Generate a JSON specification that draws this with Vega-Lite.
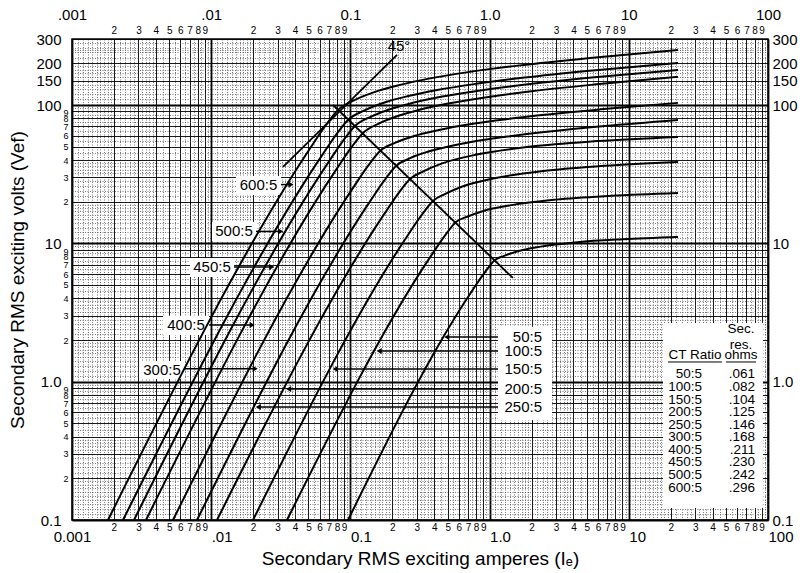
{
 "$schema": "https://vega.github.io/schema/vega-lite/v6.json",
 "width": 696, "height": 481,
 "autosize": "none",
 "padding": {"left": 72, "top": 39, "right": 37, "bottom": 53},
 "background": "white",
 "config": {
  "view": {"stroke": "black", "strokeWidth": 1.5},
  "font": "Liberation Sans",
  "axis": {"labelFont": "Liberation Sans", "titleFont": "Liberation Sans", "labelColor": "black", "titleColor": "black"}
 },
 "datasets": {
  "dummy": [{"I": 1, "V": 1}],
  "curves": [
   {"ratio": "600:5", "i": 0, "I": 0.001814, "V": 0.1}, {"ratio": "600:5", "i": 1, "I": 0.05386, "V": 52.3}, {"ratio": "600:5", "i": 2, "I": 0.06677, "V": 71.8}, {"ratio": "600:5", "i": 3, "I": 0.08146, "V": 92.2}, {"ratio": "600:5", "i": 4, "I": 0.1079, "V": 108.9}, {"ratio": "600:5", "i": 5, "I": 0.1579, "V": 126.5}, {"ratio": "600:5", "i": 6, "I": 0.2272, "V": 139.8}, {"ratio": "600:5", "i": 7, "I": 0.3731, "V": 155.8}, {"ratio": "600:5", "i": 8, "I": 0.7232, "V": 173.6}, {"ratio": "600:5", "i": 9, "I": 1.654, "V": 193.4}, {"ratio": "600:5", "i": 10, "I": 5.263, "V": 219.0}, {"ratio": "600:5", "i": 11, "I": 22.56, "V": 250.3},
   {"ratio": "500:5", "i": 0, "I": 0.002325, "V": 0.1}, {"ratio": "500:5", "i": 1, "I": 0.06355, "V": 44.3}, {"ratio": "500:5", "i": 2, "I": 0.0788, "V": 60.8}, {"ratio": "500:5", "i": 3, "I": 0.09612, "V": 78.0}, {"ratio": "500:5", "i": 4, "I": 0.1263, "V": 91.4}, {"ratio": "500:5", "i": 5, "I": 0.1826, "V": 105.5}, {"ratio": "500:5", "i": 6, "I": 0.2602, "V": 116.0}, {"ratio": "500:5", "i": 7, "I": 0.421, "V": 128.4}, {"ratio": "500:5", "i": 8, "I": 0.7985, "V": 142.3}, {"ratio": "500:5", "i": 9, "I": 1.784, "V": 157.8}, {"ratio": "500:5", "i": 10, "I": 5.494, "V": 177.6}, {"ratio": "500:5", "i": 11, "I": 22.56, "V": 201.6},
   {"ratio": "450:5", "i": 0, "I": 0.002789, "V": 0.1}, {"ratio": "450:5", "i": 1, "I": 0.07137, "V": 40.1}, {"ratio": "450:5", "i": 2, "I": 0.08847, "V": 55.0}, {"ratio": "450:5", "i": 3, "I": 0.1079, "V": 70.6}, {"ratio": "450:5", "i": 4, "I": 0.1411, "V": 82.42}, {"ratio": "450:5", "i": 5, "I": 0.2023, "V": 94.82}, {"ratio": "450:5", "i": 6, "I": 0.2859, "V": 104.1}, {"ratio": "450:5", "i": 7, "I": 0.458, "V": 115.2}, {"ratio": "450:5", "i": 8, "I": 0.8589, "V": 127.3}, {"ratio": "450:5", "i": 9, "I": 1.884, "V": 141.1}, {"ratio": "450:5", "i": 10, "I": 5.661, "V": 158.6}, {"ratio": "450:5", "i": 11, "I": 22.56, "V": 179.4},
   {"ratio": "400:5", "i": 0, "I": 0.003401, "V": 0.1}, {"ratio": "400:5", "i": 1, "I": 0.08146, "V": 35.7}, {"ratio": "400:5", "i": 2, "I": 0.101, "V": 48.96}, {"ratio": "400:5", "i": 3, "I": 0.1232, "V": 62.84}, {"ratio": "400:5", "i": 4, "I": 0.1597, "V": 73.36}, {"ratio": "400:5", "i": 5, "I": 0.2272, "V": 84.4}, {"ratio": "400:5", "i": 6, "I": 0.3184, "V": 92.64}, {"ratio": "400:5", "i": 7, "I": 0.5042, "V": 102.5}, {"ratio": "400:5", "i": 8, "I": 0.9313, "V": 113.3}, {"ratio": "400:5", "i": 9, "I": 2.0, "V": 125.7}, {"ratio": "400:5", "i": 10, "I": 5.851, "V": 141.1}, {"ratio": "400:5", "i": 11, "I": 22.56, "V": 159.7},
   {"ratio": "300:5", "i": 0, "I": 0.005316, "V": 0.1}, {"ratio": "300:5", "i": 1, "I": 0.1079, "V": 26.44}, {"ratio": "300:5", "i": 2, "I": 0.1338, "V": 36.28}, {"ratio": "300:5", "i": 3, "I": 0.1632, "V": 46.57}, {"ratio": "300:5", "i": 4, "I": 0.2088, "V": 53.21}, {"ratio": "300:5", "i": 5, "I": 0.2911, "V": 59.98}, {"ratio": "300:5", "i": 6, "I": 0.4006, "V": 64.96}, {"ratio": "300:5", "i": 7, "I": 0.6189, "V": 70.84}, {"ratio": "300:5", "i": 8, "I": 1.104, "V": 77.25}, {"ratio": "300:5", "i": 9, "I": 2.279, "V": 84.27}, {"ratio": "300:5", "i": 10, "I": 6.293, "V": 93.09}, {"ratio": "300:5", "i": 11, "I": 22.56, "V": 103.6},
   {"ratio": "250:5", "i": 0, "I": 0.007907, "V": 0.1}, {"ratio": "250:5", "i": 1, "I": 0.1406, "V": 20.6}, {"ratio": "250:5", "i": 2, "I": 0.1743, "V": 28.26}, {"ratio": "250:5", "i": 3, "I": 0.2127, "V": 36.28}, {"ratio": "250:5", "i": 4, "I": 0.2685, "V": 41.24}, {"ratio": "250:5", "i": 5, "I": 0.3683, "V": 46.27}, {"ratio": "250:5", "i": 6, "I": 0.4975, "V": 49.94}, {"ratio": "250:5", "i": 7, "I": 0.7511, "V": 54.29}, {"ratio": "250:5", "i": 8, "I": 1.299, "V": 58.9}, {"ratio": "250:5", "i": 9, "I": 2.58, "V": 64.0}, {"ratio": "250:5", "i": 10, "I": 6.734, "V": 70.5}, {"ratio": "250:5", "i": 11, "I": 22.56, "V": 78.0},
   {"ratio": "200:5", "i": 0, "I": 0.01101, "V": 0.1}, {"ratio": "200:5", "i": 1, "I": 0.1772, "V": 16.59}, {"ratio": "200:5", "i": 2, "I": 0.2198, "V": 22.76}, {"ratio": "200:5", "i": 3, "I": 0.2681, "V": 29.22}, {"ratio": "200:5", "i": 4, "I": 0.3345, "V": 33.16}, {"ratio": "200:5", "i": 5, "I": 0.4565, "V": 37.83}, {"ratio": "200:5", "i": 6, "I": 0.8118, "V": 43.86}, {"ratio": "200:5", "i": 7, "I": 1.97, "V": 50.03}, {"ratio": "200:5", "i": 8, "I": 5.969, "V": 54.83}, {"ratio": "200:5", "i": 9, "I": 22.56, "V": 58.8},
   {"ratio": "150:5", "i": 0, "I": 0.01997, "V": 0.1}, {"ratio": "150:5", "i": 1, "I": 0.2593, "V": 11.5}, {"ratio": "150:5", "i": 2, "I": 0.3215, "V": 15.78}, {"ratio": "150:5", "i": 3, "I": 0.3922, "V": 20.26}, {"ratio": "150:5", "i": 4, "I": 0.4802, "V": 22.76}, {"ratio": "150:5", "i": 5, "I": 0.6376, "V": 25.75}, {"ratio": "150:5", "i": 6, "I": 1.08, "V": 29.51}, {"ratio": "150:5", "i": 7, "I": 2.429, "V": 33.38}, {"ratio": "150:5", "i": 8, "I": 6.689, "V": 36.34}, {"ratio": "150:5", "i": 9, "I": 22.56, "V": 38.78},
   {"ratio": "100:5", "i": 0, "I": 0.03503, "V": 0.1}, {"ratio": "100:5", "i": 1, "I": 0.3793, "V": 8.109}, {"ratio": "100:5", "i": 2, "I": 0.4704, "V": 11.12}, {"ratio": "100:5", "i": 3, "I": 0.5737, "V": 14.28}, {"ratio": "100:5", "i": 4, "I": 0.6893, "V": 15.57}, {"ratio": "100:5", "i": 5, "I": 0.8905, "V": 17.07}, {"ratio": "100:5", "i": 6, "I": 1.436, "V": 18.89}, {"ratio": "100:5", "i": 7, "I": 2.994, "V": 20.7}, {"ratio": "100:5", "i": 8, "I": 7.499, "V": 22.06}, {"ratio": "100:5", "i": 9, "I": 22.56, "V": 23.14},
   {"ratio": "50:5", "i": 0, "I": 0.09612, "V": 0.1}, {"ratio": "50:5", "i": 1, "I": 0.7232, "V": 4.307}, {"ratio": "50:5", "i": 2, "I": 0.8966, "V": 5.907}, {"ratio": "50:5", "i": 3, "I": 1.093, "V": 7.586}, {"ratio": "50:5", "i": 4, "I": 1.272, "V": 8.122}, {"ratio": "50:5", "i": 5, "I": 1.573, "V": 8.74}, {"ratio": "50:5", "i": 6, "I": 2.33, "V": 9.467}, {"ratio": "50:5", "i": 7, "I": 4.27, "V": 10.19}, {"ratio": "50:5", "i": 8, "I": 9.102, "V": 10.71}, {"ratio": "50:5", "i": 9, "I": 22.56, "V": 11.12}
  ],
  "reflines": [
   {"id": "45", "i": 0, "I": 0.0328, "V": 35.7}, {"id": "45", "i": 1, "I": 0.2162, "V": 230.3},
   {"id": "knee", "i": 0, "I": 0.075, "V": 100}, {"id": "knee", "i": 1, "I": 1.47, "V": 5.62}
  ],
  "boxes": [
   {"I": 0.01507, "I2": 0.03171, "V": 22.4, "V2": 30.7},
   {"I": 0.01013, "I2": 0.02098, "V": 10.41, "V2": 14.28},
   {"I": 0.007042, "I2": 0.01458, "V": 5.71, "V2": 7.84},
   {"I": 0.004505, "I2": 0.009643, "V": 2.176, "V2": 2.99},
   {"I": 0.00308, "I2": 0.006377, "V": 1.046, "V2": 1.411},
   {"I": 1.149, "I2": 2.81, "V": 0.528, "V2": 2.49},
   {"I": 17.6, "I2": 92.0, "V": 0.122, "V2": 2.66}
  ],
  "arrows": [
   {"I": 0.03171, "I2": 0.0374, "V": 26.6, "d": "r"},
   {"I": 0.02098, "I2": 0.0316, "V": 12.2, "d": "r"},
   {"I": 0.01458, "I2": 0.0272, "V": 6.75, "d": "r"},
   {"I": 0.009643, "I2": 0.0197, "V": 2.57, "d": "r"},
   {"I": 0.006377, "I2": 0.0207, "V": 1.24, "d": "r"},
   {"I": 1.149, "I2": 0.492, "V": 2.10, "d": "l"},
   {"I": 1.149, "I2": 0.161, "V": 1.667, "d": "l"},
   {"I": 1.149, "I2": 0.0777, "V": 1.235, "d": "l"},
   {"I": 1.149, "I2": 0.036, "V": 0.885, "d": "l"},
   {"I": 1.149, "I2": 0.0218, "V": 0.656, "d": "l"}
  ],
  "labelsL": [
   {"t": "600:5", "I": 0.02186, "V": 26.2},
   {"t": "500:5", "I": 0.01458, "V": 12.19},
   {"t": "450:5", "I": 0.01013, "V": 6.69},
   {"t": "400:5", "I": 0.006591, "V": 2.551},
   {"t": "300:5", "I": 0.004432, "V": 1.215}
  ],
  "labelsR": [
   {"t": "50:5", "I": 2.38, "V": 2.10},
   {"t": "100:5", "I": 2.38, "V": 1.667},
   {"t": "150:5", "I": 2.38, "V": 1.235},
   {"t": "200:5", "I": 2.38, "V": 0.885},
   {"t": "250:5", "I": 2.38, "V": 0.656}
  ],
  "table": [
   {"t": "50:5", "I": 33.6, "V": 1.137}, {"t": ".061", "I": 80.7, "V": 1.137},
   {"t": "100:5", "I": 33.6, "V": 0.916}, {"t": ".082", "I": 80.7, "V": 0.916},
   {"t": "150:5", "I": 33.6, "V": 0.737}, {"t": ".104", "I": 80.7, "V": 0.737},
   {"t": "200:5", "I": 33.6, "V": 0.604}, {"t": ".125", "I": 80.7, "V": 0.604},
   {"t": "250:5", "I": 33.6, "V": 0.486}, {"t": ".146", "I": 80.7, "V": 0.486},
   {"t": "300:5", "I": 33.6, "V": 0.398}, {"t": ".168", "I": 80.7, "V": 0.398},
   {"t": "400:5", "I": 33.6, "V": 0.321}, {"t": ".211", "I": 80.7, "V": 0.321},
   {"t": "450:5", "I": 33.6, "V": 0.263}, {"t": ".230", "I": 80.7, "V": 0.263},
   {"t": "500:5", "I": 33.6, "V": 0.2115}, {"t": ".242", "I": 80.7, "V": 0.2115},
   {"t": "600:5", "I": 33.6, "V": 0.1703}, {"t": ".296", "I": 80.7, "V": 0.1703}
  ],
  "heads": [
   {"t": "CT Ratio", "I": 29.9, "V": 1.56},
   {"t": "ohms", "I": 64.0, "V": 1.56},
   {"t": "res.", "I": 64.0, "V": 1.843},
   {"t": "Sec.", "I": 64.0, "V": 2.405}
  ],
  "underlines": [
   {"I": 19.12, "I2": 46.7, "V": 1.388},
   {"I": 49.9, "I2": 82.0, "V": 1.388}
  ],
  "deg": [{"t": "45°", "I": 0.2234, "V": 230.3}]
 },
 "resolve": {"axis": {"x": "independent", "y": "independent"}},
 "layer": [
  {
   "data": {"name": "dummy"},
   "mark": {"type": "point", "opacity": 0},
   "encoding": {
    "x": {"field": "I", "type": "quantitative", "scale": {"type": "log", "domain": [0.001, 100], "nice": false},
     "axis": {"grid": true, "domain": false, "ticks": false, "labels": false, "title": null, "gridColor": "#444444", "gridDash": [1, 1.5], "gridWidth": 0.7,
      "values": [0.0011,0.0012,0.0013,0.0014,0.0015,0.0016,0.0017,0.0018,0.0019,0.0022,0.0024,0.0026,0.0028,0.0032,0.0034,0.0036,0.0038,0.0045,0.0055,0.0065,0.0075,0.0085,0.0095,
       0.011,0.012,0.013,0.014,0.015,0.016,0.017,0.018,0.019,0.022,0.024,0.026,0.028,0.032,0.034,0.036,0.038,0.045,0.055,0.065,0.075,0.085,0.095,
       0.11,0.12,0.13,0.14,0.15,0.16,0.17,0.18,0.19,0.22,0.24,0.26,0.28,0.32,0.34,0.36,0.38,0.45,0.55,0.65,0.75,0.85,0.95,
       1.1,1.2,1.3,1.4,1.5,1.6,1.7,1.8,1.9,2.2,2.4,2.6,2.8,3.2,3.4,3.6,3.8,4.5,5.5,6.5,7.5,8.5,9.5,
       11,12,13,14,15,16,17,18,19,22,24,26,28,32,34,36,38,45,55,65,75,85,95]}},
    "y": {"field": "V", "type": "quantitative", "scale": {"type": "log", "domain": [0.1, 300], "nice": false},
     "axis": {"grid": true, "domain": false, "ticks": false, "labels": false, "title": null, "gridColor": "#444444", "gridDash": [1, 1.5], "gridWidth": 0.7,
      "values": [0.11,0.12,0.13,0.14,0.15,0.16,0.17,0.18,0.19,0.22,0.24,0.26,0.28,0.32,0.34,0.36,0.38,0.45,0.55,0.65,0.75,0.85,0.95,
       1.1,1.2,1.3,1.4,1.5,1.6,1.7,1.8,1.9,2.2,2.4,2.6,2.8,3.2,3.4,3.6,3.8,4.5,5.5,6.5,7.5,8.5,9.5,
       11,12,13,14,15,16,17,18,19,22,24,26,28,32,34,36,38,45,55,65,75,85,95,
       110,120,130,140,160,170,180,190,220,240,250,260,280]}}
   }
  },
  {
   "data": {"name": "dummy"},
   "mark": {"type": "point", "opacity": 0},
   "encoding": {
    "x": {"field": "I", "type": "quantitative", "scale": {"type": "log", "domain": [0.001, 100], "nice": false},
     "axis": {"grid": true, "domain": false, "ticks": false, "labels": false, "title": null, "gridColor": "black", "gridWidth": 0.9,
      "values": [0.002,0.003,0.004,0.005,0.006,0.007,0.008,0.009,0.02,0.03,0.04,0.05,0.06,0.07,0.08,0.09,0.2,0.3,0.4,0.5,0.6,0.7,0.8,0.9,2,3,4,5,6,7,8,9,20,30,40,50,60,70,80,90]}},
    "y": {"field": "V", "type": "quantitative", "scale": {"type": "log", "domain": [0.1, 300], "nice": false},
     "axis": {"grid": true, "domain": false, "ticks": false, "labels": false, "title": null, "gridColor": "black", "gridWidth": 0.9,
      "values": [0.2,0.3,0.4,0.5,0.6,0.7,0.8,0.9,2,3,4,5,6,7,8,9,20,30,40,50,60,70,80,90,150,200,300]}}
   }
  },
  {
   "data": {"name": "dummy"},
   "mark": {"type": "point", "opacity": 0},
   "encoding": {
    "x": {"field": "I", "type": "quantitative", "scale": {"type": "log", "domain": [0.001, 100], "nice": false},
     "axis": {"grid": true, "domain": false, "ticks": false, "labels": false, "title": null, "gridColor": "black", "gridWidth": 1.8,
      "values": [0.001, 0.01, 0.1, 1, 10, 100]}},
    "y": {"field": "V", "type": "quantitative", "scale": {"type": "log", "domain": [0.1, 300], "nice": false},
     "axis": {"grid": true, "domain": false, "ticks": false, "labels": false, "title": null, "gridColor": "black", "gridWidth": 1.8,
      "values": [0.1, 1, 10, 100]}}
   }
  },
  {
   "data": {"name": "dummy"},
   "mark": {"type": "point", "opacity": 0},
   "encoding": {
    "x": {"field": "I", "type": "quantitative", "scale": {"type": "log", "domain": [0.001, 100], "nice": false},
     "axis": {"orient": "bottom", "grid": false, "domain": false, "ticks": false, "labelOverlap": false, "labelFlush": false, "labelBound": false,
      "values": [0.001, 0.01, 0.1, 1, 10, 100],
      "labelExpr": "datum.value < 0.005 ? '0.001' : datum.value < 0.05 ? '.01' : datum.value < 0.5 ? '0.1' : datum.value < 5 ? '1.0' : datum.value < 50 ? '10' : '100'",
      "labelAlign": {"condition": {"test": "datum.value < 0.005", "value": "center"}, "value": "left"},
      "labelFontSize": 15, "labelPadding": 9,
      "title": "Secondary RMS exciting amperes (Iₑ)", "titleFontSize": 19, "titleFontWeight": "normal", "titlePadding": 5}},
    "y": {"field": "V", "type": "quantitative", "scale": {"type": "log", "domain": [0.1, 300], "nice": false},
     "axis": {"orient": "left", "grid": false, "domain": false, "ticks": false, "labelOverlap": false, "labelFlush": false, "labelBound": false,
      "values": [0.1, 1, 10, 100, 150, 200, 300],
      "labelExpr": "datum.value < 0.5 ? '0.1' : datum.value < 5 ? '1.0' : format(datum.value, 'd')",
      "labelFontSize": 15, "labelPadding": 11,
      "title": "Secondary RMS exciting volts (Vef)", "titleFontSize": 19, "titleFontWeight": "normal", "titlePadding": 8}}
   }
  },
  {
   "data": {"name": "dummy"},
   "mark": {"type": "point", "opacity": 0},
   "encoding": {
    "x": {"field": "I", "type": "quantitative", "scale": {"type": "log", "domain": [0.001, 100], "nice": false},
     "axis": {"orient": "bottom", "grid": false, "domain": false, "ticks": false, "labelOverlap": false, "labelFlush": false, "labelBound": false, "title": null,
      "values": [0.002,0.003,0.004,0.005,0.006,0.007,0.008,0.009,0.02,0.03,0.04,0.05,0.06,0.07,0.08,0.09,0.2,0.3,0.4,0.5,0.6,0.7,0.8,0.9,2,3,4,5,6,7,8,9,20,30,40,50,60,70,80,90],
      "labelExpr": "format(datum.value / pow(10, floor(log(datum.value) / LN10 + 0.000001)), '.0f')",
      "labelFontSize": 10, "labelPadding": 2}},
    "y": {"field": "V", "type": "quantitative", "scale": {"type": "log", "domain": [0.1, 300], "nice": false},
     "axis": {"orient": "left", "grid": false, "domain": false, "ticks": false, "labelOverlap": false, "labelFlush": false, "labelBound": false, "title": null,
      "values": [0.2,0.3,0.4,0.5,0.6,0.7,0.8,0.9,2,3,4,5,6,7,8,9,20,30,40,50,60,70,80,90],
      "labelExpr": "format(datum.value / pow(10, floor(log(datum.value) / LN10 + 0.000001)), '.0f')",
      "labelOffset": {"condition": {"test": "datum.value / pow(10, floor(log(datum.value) / LN10 + 0.000001)) > 8.5", "value": 1.5}, "value": 0},
      "labelFontSize": 9, "labelPadding": 4}}
   }
  },
  {
   "data": {"name": "dummy"},
   "mark": {"type": "point", "opacity": 0},
   "encoding": {
    "x": {"field": "I", "type": "quantitative", "scale": {"type": "log", "domain": [0.001, 100], "nice": false},
     "axis": {"orient": "top", "grid": false, "domain": false, "ticks": false, "labelOverlap": false, "labelFlush": false, "labelBound": false, "title": null,
      "values": [0.001, 0.01, 0.1, 1, 10, 100],
      "labelExpr": "datum.value < 0.005 ? '.001' : datum.value < 0.05 ? '.01' : datum.value < 0.5 ? '0.1' : datum.value < 5 ? '1.0' : datum.value < 50 ? '10' : '100'",
      "labelFontSize": 15, "labelPadding": 17}},
    "y": {"field": "V", "type": "quantitative", "scale": {"type": "log", "domain": [0.1, 300], "nice": false},
     "axis": {"orient": "right", "grid": false, "domain": false, "ticks": false, "labelOverlap": false, "labelFlush": false, "labelBound": false, "title": null,
      "values": [0.1, 1, 10, 100, 150, 200, 300],
      "labelExpr": "datum.value < 0.5 ? '0.1' : datum.value < 5 ? '1.0' : format(datum.value, 'd')",
      "labelFontSize": 15, "labelPadding": 4}}
   }
  },
  {
   "data": {"name": "dummy"},
   "mark": {"type": "point", "opacity": 0},
   "encoding": {
    "x": {"field": "I", "type": "quantitative", "scale": {"type": "log", "domain": [0.001, 100], "nice": false},
     "axis": {"orient": "top", "grid": false, "domain": false, "ticks": false, "labelOverlap": false, "labelFlush": false, "labelBound": false, "title": null,
      "values": [0.002,0.003,0.004,0.005,0.006,0.007,0.008,0.009,0.02,0.03,0.04,0.05,0.06,0.07,0.08,0.09,0.2,0.3,0.4,0.5,0.6,0.7,0.8,0.9,2,3,4,5,6,7,8,9,20,30,40,50,60,70,80,90],
      "labelExpr": "format(datum.value / pow(10, floor(log(datum.value) / LN10 + 0.000001)), '.0f')",
      "labelFontSize": 10, "labelPadding": 4}},
    "y": {"field": "V", "type": "quantitative", "scale": {"type": "log", "domain": [0.1, 300], "nice": false}, "axis": null}
   }
  },
  {
   "data": {"name": "boxes"},
   "mark": {"type": "rect", "fill": "white", "stroke": null},
   "encoding": {
    "x": {"field": "I", "type": "quantitative", "scale": {"type": "log", "domain": [0.001, 100], "nice": false}, "axis": null},
    "x2": {"field": "I2"},
    "y": {"field": "V", "type": "quantitative", "scale": {"type": "log", "domain": [0.1, 300], "nice": false}, "axis": null},
    "y2": {"field": "V2"}
   }
  },
  {
   "data": {"name": "curves"},
   "mark": {"type": "line", "color": "black", "strokeWidth": 2, "interpolate": "monotone"},
   "encoding": {
    "x": {"field": "I", "type": "quantitative", "scale": {"type": "log", "domain": [0.001, 100], "nice": false}, "axis": null},
    "y": {"field": "V", "type": "quantitative", "scale": {"type": "log", "domain": [0.1, 300], "nice": false}, "axis": null},
    "detail": {"field": "ratio", "type": "nominal"},
    "order": {"field": "i", "type": "quantitative"}
   }
  },
  {
   "data": {"name": "reflines"},
   "mark": {"type": "line", "color": "black", "strokeWidth": 1.8},
   "encoding": {
    "x": {"field": "I", "type": "quantitative", "scale": {"type": "log", "domain": [0.001, 100], "nice": false}, "axis": null},
    "y": {"field": "V", "type": "quantitative", "scale": {"type": "log", "domain": [0.1, 300], "nice": false}, "axis": null},
    "detail": {"field": "id", "type": "nominal"},
    "order": {"field": "i", "type": "quantitative"}
   }
  },
  {
   "data": {"name": "arrows"},
   "mark": {"type": "rule", "color": "black", "strokeWidth": 1.5},
   "encoding": {
    "x": {"field": "I", "type": "quantitative", "scale": {"type": "log", "domain": [0.001, 100], "nice": false}, "axis": null},
    "x2": {"field": "I2"},
    "y": {"field": "V", "type": "quantitative", "scale": {"type": "log", "domain": [0.1, 300], "nice": false}, "axis": null}
   }
  },
  {
   "data": {"name": "arrows"},
   "mark": {"type": "point", "filled": true, "color": "black", "size": 35, "opacity": 1},
   "encoding": {
    "x": {"field": "I2", "type": "quantitative", "scale": {"type": "log", "domain": [0.001, 100], "nice": false}, "axis": null},
    "y": {"field": "V", "type": "quantitative", "scale": {"type": "log", "domain": [0.1, 300], "nice": false}, "axis": null},
    "shape": {"field": "d", "type": "nominal", "scale": {"domain": ["r", "l"], "range": ["triangle-right", "triangle-left"]}, "legend": null}
   }
  },
  {
   "data": {"name": "underlines"},
   "mark": {"type": "rule", "color": "black", "strokeWidth": 1},
   "encoding": {
    "x": {"field": "I", "type": "quantitative", "scale": {"type": "log", "domain": [0.001, 100], "nice": false}, "axis": null},
    "x2": {"field": "I2"},
    "y": {"field": "V", "type": "quantitative", "scale": {"type": "log", "domain": [0.1, 300], "nice": false}, "axis": null}
   }
  },
  {
   "data": {"name": "labelsL"},
   "mark": {"type": "text", "fontSize": 15, "align": "center", "baseline": "middle", "color": "black", "font": "Liberation Sans"},
   "encoding": {
    "x": {"field": "I", "type": "quantitative", "scale": {"type": "log", "domain": [0.001, 100], "nice": false}, "axis": null},
    "y": {"field": "V", "type": "quantitative", "scale": {"type": "log", "domain": [0.1, 300], "nice": false}, "axis": null},
    "text": {"field": "t"}
   }
  },
  {
   "data": {"name": "labelsR"},
   "mark": {"type": "text", "fontSize": 15, "align": "right", "baseline": "middle", "color": "black", "font": "Liberation Sans"},
   "encoding": {
    "x": {"field": "I", "type": "quantitative", "scale": {"type": "log", "domain": [0.001, 100], "nice": false}, "axis": null},
    "y": {"field": "V", "type": "quantitative", "scale": {"type": "log", "domain": [0.1, 300], "nice": false}, "axis": null},
    "text": {"field": "t"}
   }
  },
  {
   "data": {"name": "table"},
   "mark": {"type": "text", "fontSize": 13.5, "align": "right", "baseline": "middle", "color": "black", "font": "Liberation Sans"},
   "encoding": {
    "x": {"field": "I", "type": "quantitative", "scale": {"type": "log", "domain": [0.001, 100], "nice": false}, "axis": null},
    "y": {"field": "V", "type": "quantitative", "scale": {"type": "log", "domain": [0.1, 300], "nice": false}, "axis": null},
    "text": {"field": "t"}
   }
  },
  {
   "data": {"name": "heads"},
   "mark": {"type": "text", "fontSize": 13.5, "align": "center", "baseline": "middle", "color": "black", "font": "Liberation Sans"},
   "encoding": {
    "x": {"field": "I", "type": "quantitative", "scale": {"type": "log", "domain": [0.001, 100], "nice": false}, "axis": null},
    "y": {"field": "V", "type": "quantitative", "scale": {"type": "log", "domain": [0.1, 300], "nice": false}, "axis": null},
    "text": {"field": "t"}
   }
  },
  {
   "data": {"name": "deg"},
   "mark": {"type": "text", "fontSize": 15, "align": "center", "baseline": "bottom", "dy": -1, "color": "black", "font": "Liberation Sans"},
   "encoding": {
    "x": {"field": "I", "type": "quantitative", "scale": {"type": "log", "domain": [0.001, 100], "nice": false}, "axis": null},
    "y": {"field": "V", "type": "quantitative", "scale": {"type": "log", "domain": [0.1, 300], "nice": false}, "axis": null},
    "text": {"field": "t"}
   }
  }
 ]
}
